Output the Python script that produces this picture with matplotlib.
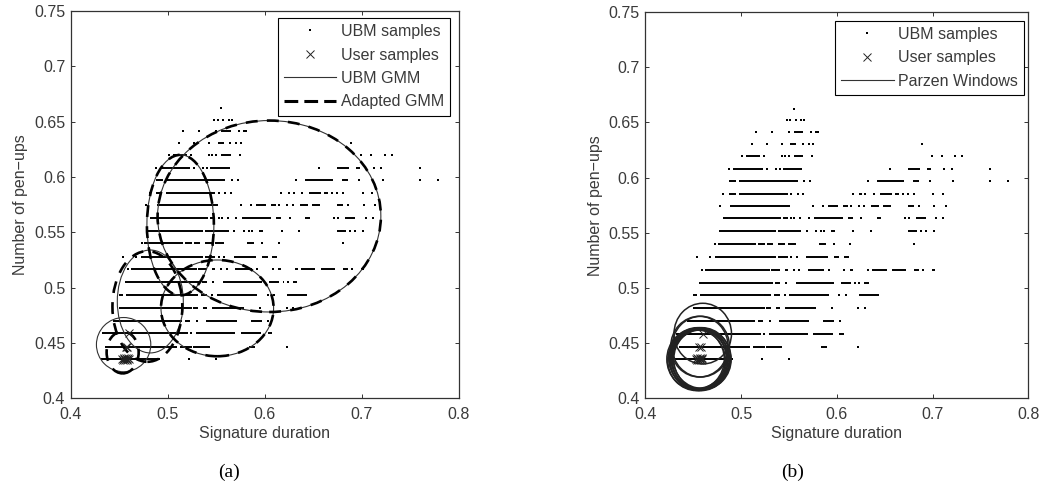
import matplotlib
matplotlib.use('Agg')
import matplotlib.pyplot as plt
from matplotlib.lines import Line2D
from matplotlib.patches import Ellipse

plt.rcParams['font.family'] = ['Liberation Sans', 'DejaVu Sans']

# UBM samples
row_y = [0.6623, 0.6517, 0.6412, 0.6306, 0.6197, 0.6082, 0.5970, 0.5855, 0.5743, 0.5632, 0.5515,
         0.5402, 0.5281, 0.5166, 0.5048, 0.4934, 0.4819, 0.4701, 0.4586, 0.4468, 0.4354]

# isolated samples in each row
row_dots = [
    [0.5548],
    [0.5478, 0.5513, 0.5569, 0.5628, 0.5662],
    [0.5152, 0.5322, 0.5499, 0.5732, 0.5784, 0.5808],
    [0.5111, 0.5270, 0.5426, 0.5645, 0.5707, 0.5756],
    [0.5013, 0.5236, 0.5423, 0.5454, 0.5499, 0.5742, 0.6993, 0.7097, 0.7236, 0.7305],
    [0.4875, 0.5270, 0.5360, 0.5409, 0.6556, 0.7121, 0.7201, 0.7597],
    [0.5662, 0.5721, 0.6323, 0.6972, 0.7215, 0.7603, 0.7784],
    [0.4812, 0.5524, 0.5593, 0.5652, 0.6167, 0.6299, 0.6386, 0.6694, 0.6739, 0.6809, 0.7007, 0.7104],
    [0.4777, 0.5756, 0.5853, 0.6150, 0.6229, 0.6288, 0.6854, 0.7017, 0.7139],
    [0.5524, 0.5558, 0.5617, 0.5707, 0.6254, 0.6715, 0.6750, 0.7041, 0.7114],
    [0.5687, 0.5784, 0.5836, 0.5870, 0.6174, 0.6354, 0.6878, 0.6930, 0.7010],
    [0.4732, 0.5975, 0.6143, 0.6802],
    [0.4535, 0.4673, 0.5524, 0.5583],
    [0.4587, 0.5548, 0.5610, 0.5923, 0.6079, 0.6896],
    [0.5471, 0.6236],
    [0.5454, 0.6028, 0.6091],
    [0.5950, 0.6226, 0.6295],
    [0.5298, 0.6035],
    [0.5235],
    [0.6226],
    [0.5222, 0.5496],
]

# runs of samples so dense that they read as a solid line
row_runs = [
    [],
    [],
    [(0.5548, 0.5652)],
    [(0.5513, 0.5576), (0.6880, 0.6900)],
    [(0.5055, 0.5194), (0.5548, 0.5652)],
    [(0.4916, 0.5229), (0.5437, 0.5638), (0.6739, 0.6868), (0.6937, 0.6982)],
    [(0.4875, 0.4951), (0.4979, 0.5593), (0.6417, 0.6705), (0.6798, 0.6854)],
    [(0.4875, 0.4944), (0.4979, 0.5489), (0.6236, 0.6264), (0.6455, 0.6576), (0.6611, 0.6646)],
    [(0.4889, 0.5513), (0.5905, 0.6009), (0.6063, 0.6115), (0.6358, 0.6445), (0.6486, 0.6566), (0.6739, 0.6809)],
    [(0.4812, 0.5419), (0.5437, 0.5489), (0.5766, 0.6063), (0.6115, 0.6167), (0.6417, 0.6462), (0.6826, 0.6930)],
    [(0.4771, 0.5367), (0.5385, 0.5628), (0.5941, 0.5976), (0.6739, 0.6833)],
    [(0.4760, 0.5159), (0.5177, 0.5246), (0.5270, 0.5333), (0.5385, 0.5454), (0.5489, 0.5576), (0.5819, 0.5888)],
    [(0.4725, 0.5367), (0.5385, 0.5489), (0.5680, 0.5905), (0.5966, 0.6028), (0.6070, 0.6125)],
    [(0.4621, 0.5298), (0.5315, 0.5402), (0.5454, 0.5489), (0.5697, 0.5870), (0.6139, 0.6167), (0.6313, 0.6340),
     (0.6368, 0.6521), (0.6576, 0.6722), (0.6809, 0.6854), (0.6993, 0.7021)],
    [(0.4562, 0.5333), (0.5350, 0.5402), (0.5569, 0.5975), (0.6045, 0.6150), (0.6184, 0.6202), (0.6288, 0.6333)],
    [(0.4500, 0.4535), (0.4569, 0.5315), (0.5340, 0.5402), (0.5506, 0.5916), (0.6229, 0.6438)],
    [(0.4493, 0.5246), (0.5263, 0.5315), (0.5367, 0.5402), (0.5454, 0.5784)],
    [(0.4431, 0.5142), (0.5177, 0.5229), (0.5395, 0.5714), (0.5853, 0.5966)],
    [(0.4320, 0.5211), (0.5291, 0.5697), (0.5756, 0.5957), (0.6028, 0.6070)],
    [(0.4355, 0.5090), (0.5125, 0.5246), (0.5263, 0.5430), (0.5836, 0.5895)],
    [(0.4312, 0.4916)],
]

# user samples
user_x = [0.4600, 0.4580, 0.4565, 0.4525, 0.4535, 0.4545, 0.4552, 0.4560, 0.4567, 0.4575, 0.4582, 0.4590, 0.4597]
user_y = [0.4586, 0.4468, 0.4468, 0.4354, 0.4345, 0.4365, 0.4354, 0.4345, 0.4365, 0.4354, 0.4345, 0.4365, 0.4354]

# gaussian contours: centre x, centre y, width, height
ubm_gmm = [(0.6045, 0.5645, 0.230, 0.173),
           (0.5130, 0.5565, 0.069, 0.127),
           (0.5510, 0.4815, 0.116, 0.087),
           (0.4820, 0.4875, 0.068, 0.093),
           (0.4545, 0.4485, 0.056, 0.049)]
adapted_gmm = [(0.6045, 0.5645, 0.230, 0.173),
               (0.5130, 0.5565, 0.069, 0.127),
               (0.5510, 0.4815, 0.116, 0.087),
               (0.4790, 0.4830, 0.072, 0.100),
               (0.4535, 0.4415, 0.033, 0.038)]
parzen_w = 0.060
parzen_h = 0.055

xticks = [0.4, 0.5, 0.6, 0.7, 0.8]
yticks = [0.4, 0.45, 0.5, 0.55, 0.6, 0.65, 0.7, 0.75]
yticklabels = ['0.4', '0.45', '0.5', '0.55', '0.6', '0.65', '0.7', '0.75']

W, H = 1045, 487
TXT = '#3a3a3a'
FS = 11.5


def setup_axes(fig, x0, x1, top, bottom):
    ax = fig.add_axes([x0 / W, 1 - bottom / H, (x1 - x0) / W, (bottom - top) / H])
    ax.set_xlim(0.4, 0.8)
    ax.set_ylim(0.4, 0.75)
    ax.set_xticks(xticks)
    ax.set_xticklabels(['0.4', '0.5', '0.6', '0.7', '0.8'])
    ax.set_yticks(yticks)
    ax.set_yticklabels(yticklabels)
    ax.tick_params(direction='in', top=True, right=True, length=3, width=0.7, color='#333333',
                   labelsize=FS, labelcolor=TXT)
    ax.tick_params(axis='x', pad=6)
    ax.tick_params(axis='y', pad=4)
    for s in ax.spines.values():
        s.set_linewidth(0.9)
        s.set_color('#333333')
    ax.set_xlabel('Signature duration', fontsize=FS, color=TXT, labelpad=3)
    ax.set_ylabel('Number of pen\u2212ups', fontsize=FS, color=TXT, labelpad=4)
    return ax


def draw_samples(ax):
    for y, dots, runs in zip(row_y, row_dots, row_runs):
        ax.plot(dots, [y] * len(dots), ls='none', marker='s', ms=1.6, mew=0, color='k', zorder=2)
        for a, b in runs:
            ax.plot([a, b], [y, y], color='k', lw=1.4, solid_capstyle='butt', zorder=2)
    ax.plot(user_x, user_y, ls='none', marker='x', ms=5.5, mew=0.7, color='#222222', zorder=5)


def draw_ellipses(ax, shapes, **kw):
    for cx, cy, w, h in shapes:
        ax.add_patch(Ellipse((cx, cy), w, h, fill=False, **kw))


def add_legend(ax, handles, labels, right, top):
    leg = ax.legend(handles, labels, loc='upper right', bbox_to_anchor=(right / W, 1 - top / H),
                    bbox_transform=fig.transFigure, fontsize=FS, fancybox=False, framealpha=1,
                    edgecolor='k', labelspacing=0.53, handlelength=3.3, handletextpad=0.27,
                    borderpad=0.38, borderaxespad=0, labelcolor=TXT)
    leg.get_frame().set_linewidth(0.8)
    return leg


fig = plt.figure(figsize=(W / 100, H / 100), dpi=100)

# (a) GMM
ax1 = setup_axes(fig, 70.7, 459, 11, 398.3)
draw_samples(ax1)
draw_ellipses(ax1, ubm_gmm, ec='#333333', lw=0.8, zorder=3)
draw_ellipses(ax1, adapted_gmm, ec='k', lw=1.9, ls=(0, (4.5, 3.5)), zorder=4)
h1 = [Line2D([], [], ls='none', marker='s', ms=1.6, mew=0, color='k'),
      Line2D([], [], ls='none', marker='x', ms=5.5, mew=0.7, color='#222222'),
      Line2D([], [], color='#333333', lw=0.8),
      Line2D([], [], color='k', lw=2.2, ls=(0, (4.5, 2)))]
add_legend(ax1, h1, ['UBM samples', 'User samples', 'UBM GMM', 'Adapted GMM'], 450, 18)

# (b) Parzen windows
ax2 = setup_axes(fig, 645.3, 1028.3, 12, 398.3)
draw_samples(ax2)
for ux, uy in zip(user_x, user_y):
    draw_ellipses(ax2, [(ux, uy, parzen_w, parzen_h)], ec='#222222', lw=1.1, zorder=3)
h2 = [Line2D([], [], ls='none', marker='s', ms=1.6, mew=0, color='k'),
      Line2D([], [], ls='none', marker='x', ms=5.5, mew=0.7, color='#222222'),
      Line2D([], [], color='#333333', lw=0.8)]
add_legend(ax2, h2, ['UBM samples', 'User samples', 'Parzen Windows'], 1024, 20.7)

fig.text(229 / W, 1 - 472 / H, '(a)', family='Liberation Serif', fontsize=14, ha='center', va='center', color='k')
fig.text(793 / W, 1 - 472 / H, '(b)', family='Liberation Serif', fontsize=14, ha='center', va='center', color='k')

fig.savefig('out.png', dpi=100)
